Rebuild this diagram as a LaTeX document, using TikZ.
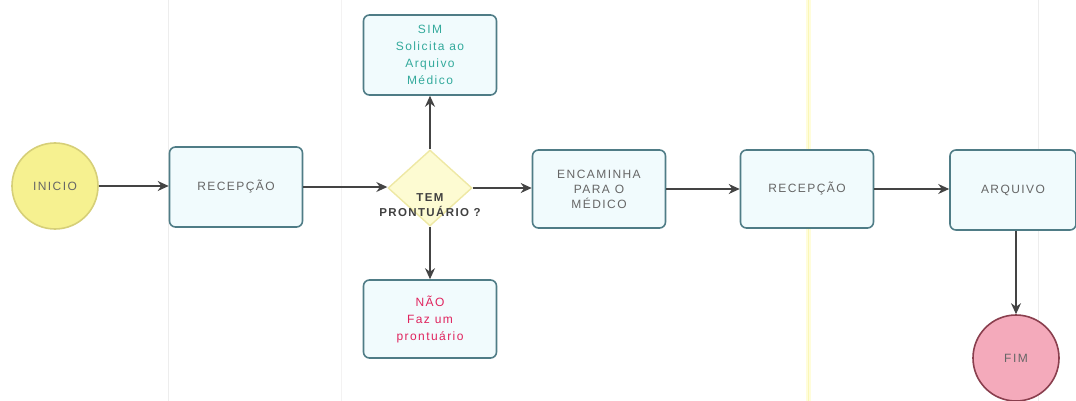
\documentclass[tikz,border=0pt]{standalone}
\usepackage{fontspec}
\setmainfont{Liberation Sans}
\newfontfamily\widesans[LetterSpace=12]{Liberation Sans}
\usetikzlibrary{shapes.geometric,arrows.meta}
\definecolor{boxline}{HTML}{4F7C86}
\definecolor{boxfill}{HTML}{F1FBFD}
\definecolor{txtgray}{HTML}{666666}
\definecolor{flowline}{HTML}{444444}
\definecolor{startfill}{HTML}{F6F190}
\definecolor{startline}{HTML}{D6CF78}
\definecolor{endfill}{HTML}{F4AABB}
\definecolor{endline}{HTML}{8A3F4E}
\definecolor{decfill}{HTML}{FDFBD2}
\definecolor{decline}{HTML}{EEE8A4}
\definecolor{simtxt}{HTML}{33AA9C}
\definecolor{naotxt}{HTML}{E0245E}
\begin{document}
\begin{tikzpicture}[x=1pt,y=-1pt,
  box/.style={draw=boxline, fill=boxfill, line width=1.6pt, rounded corners=6pt,
    minimum width=133pt, minimum height=80pt, align=center, inner sep=2pt,
    font=\widesans\fontsize{12}{15}\selectfont, text=txtgray},
  event/.style={circle, minimum size=86pt, inner sep=0pt, line width=1.6pt,
    font=\widesans\fontsize{12}{13}\selectfont, text=txtgray},
  flow/.style={draw=flowline, line width=1.3pt, -{Stealth[length=11pt,width=10pt]}},
  lane/.style={line width=1pt}]
\useasboundingbox (0,0) rectangle (1076,401);

% lane separators
\draw[lane, black!7] (168,0) -- (168,401);
\draw[lane, red!3!black!5] (341,0) -- (341,401);
\draw[line width=5pt, yellow!14] (808,0) -- (808,401);
\draw[lane, brown!25!yellow!30] (808,0) -- (808,401);
\draw[lane, black!7] (1038,0) -- (1038,401);

% flow elements
\node[event, draw=startline, fill=startfill] (ini) at (55,186) {INICIO};
\node[box] (rec1) at (236,187) {RECEPÇÃO};
\node[diamond, draw=decline, fill=decfill, line width=1.4pt, minimum width=84pt,
  minimum height=76pt, inner sep=0pt] (dec) at (430,188) {};
\node[font=\widesans\fontsize{11.5}{15}\selectfont\bfseries, text=black!75, align=center]
  (decl) at (430,205) {TEM\\PRONTUÁRIO ?};
\node[box, text=simtxt, font=\widesans\fontsize{12}{17}\selectfont] (sim) at (430,55)
  {SIM\\Solicita ao\\Arquivo\\Médico};
\node[box, text=naotxt, minimum height=78pt, font=\widesans\fontsize{12}{17}\selectfont]
  (nao) at (430,319) {NÃO\\Faz um\\prontuário};
\node[box, minimum height=78pt] (enc) at (599,189) {ENCAMINHA\\PARA O\\MÉDICO};
\node[box, minimum height=78pt] (rec2) at (807,189) {RECEPÇÃO};
\node[box, minimum width=126pt] (arq) at (1013,190) {ARQUIVO};
\node[event, draw=endline, fill=endfill] (fim) at (1016,358) {FIM};

% connectors
\draw[flow] (ini.east) -- (rec1.west |- ini.east);
\draw[flow] (rec1.east) -- (dec.west |- rec1.east);
\draw[flow] (dec.north) -- (sim.south);
\draw[flow] (dec.south) -- (nao.north);
\draw[flow] (dec.east) -- (enc.west |- dec.east);
\draw[flow] (enc) -- (rec2);
\draw[flow] (rec2.east) -- (arq.west |- rec2.east);
\draw[flow] (fim.north |- arq.south) -- (fim.north);
\end{tikzpicture}
\end{document}
